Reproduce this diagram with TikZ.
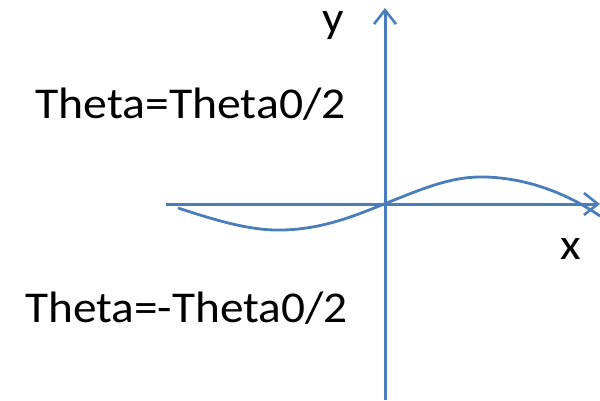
\documentclass[tikz,border=0pt]{standalone}
\usepackage{fontspec}
\setmainfont{Carlito}
\usetikzlibrary{arrows.meta}
\definecolor{axisblue}{RGB}{74,126,187}
\begin{document}
\begin{tikzpicture}[x=1pt,y=-1pt,
  axis/.style={draw=axisblue,line width=3pt,-{Straight Barb[length=14pt,width=22pt,line width=2.6pt]}},
  wave/.style={draw=axisblue,line width=2.8pt},
  lbl/.style={font=\fontsize{44}{48}\selectfont,inner sep=0pt,anchor=base west}]
\useasboundingbox (0,0) rectangle (600,400);
\coordinate (xs) at (166,204);
\coordinate (xe) at (600,204);
\coordinate (ys) at (385,400);
\coordinate (ye) at (385,8);
\draw[axis] (xs) -- (xe);
\draw[axis] (ys) -- (ye);
\coordinate (c0) at (178,208);
\coordinate (c1) at (283,230);
\coordinate (c2) at (384,204);
\coordinate (c3) at (485,177);
\coordinate (c4) at (600,216);
\draw[wave] (c0) .. controls (215,220) and (250,231) .. (c1)
  .. controls (320,229) and (350,218) .. (c2)
  .. controls (420,190) and (450,176) .. (c3)
  .. controls (525,178) and (565,192) .. (c4);
\node[lbl] (t1) at (35,118) {\scalebox{1.085}[1]{Theta=Theta0/2}};
\node[lbl] (t2) at (25,322) {\scalebox{1.075}[1]{Theta=-Theta0/2}};
\node[lbl] (ly) at (322,32) {\scalebox{1.08}[1]{y}};
\node[lbl] (lx) at (560,259) {\scalebox{1.08}[1]{x}};
\end{tikzpicture}
\end{document}
